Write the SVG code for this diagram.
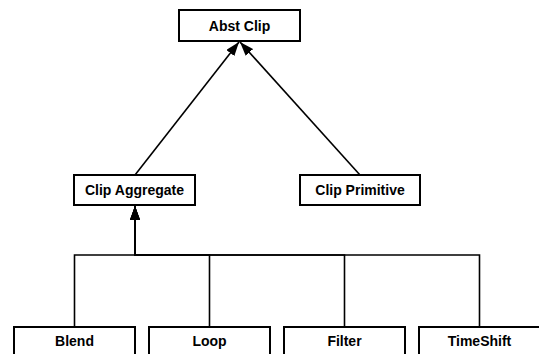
<svg xmlns="http://www.w3.org/2000/svg" width="539" height="354" viewBox="0 0 539 354">
<style>
.box{fill:#fff;stroke:#000;stroke-width:2}
.lbl{font-family:"Liberation Sans",Arial,sans-serif;font-weight:bold;font-size:14px;text-anchor:middle;fill:#000}
.conn{fill:none;stroke:#000;stroke-width:1.6}
</style>
<defs>
<marker id="arr" viewBox="0 0 14 10" refX="14" refY="5" markerWidth="14" markerHeight="10" markerUnits="userSpaceOnUse" orient="auto">
<path d="M0,0 L14,5 L0,10 Z" fill="#000"/>
</marker>
</defs>
<rect width="539" height="354" fill="#fff"/>
<g id="connectors">
<path class="conn" d="M135,175 L239,42" marker-end="url(#arr)"/>
<path class="conn" d="M360,175 L240,42" marker-end="url(#arr)"/>
<path class="conn" d="M74.5,327 V255 H135 V206" marker-end="url(#arr)"/>
<path class="conn" d="M209.5,327 V255 H135 V206" marker-end="url(#arr)"/>
<path class="conn" d="M344.5,327 V255 H135 V206" marker-end="url(#arr)"/>
<path class="conn" d="M479.5,327 V255 H135 V206" marker-end="url(#arr)"/>
</g>
<g id="abst-clip"><rect class="box" x="179" y="10" width="121" height="31"/><text class="lbl" x="239.5" y="31">Abst Clip</text></g>
<g id="clip-aggregate"><rect class="box" x="74" y="175" width="121" height="30"/><text class="lbl" x="134.5" y="195">Clip Aggregate</text></g>
<g id="clip-primitive"><rect class="box" x="300" y="175" width="120" height="30"/><text class="lbl" x="360" y="195">Clip Primitive</text></g>
<g id="blend"><rect class="box" x="14" y="327" width="121" height="31"/><text class="lbl" x="74.5" y="346">Blend</text></g>
<g id="loop"><rect class="box" x="149" y="327" width="121" height="31"/><text class="lbl" x="209.5" y="346">Loop</text></g>
<g id="filter"><rect class="box" x="284" y="327" width="121" height="31"/><text class="lbl" x="344.5" y="346">Filter</text></g>
<g id="timeshift"><rect class="box" x="419" y="327" width="121" height="31"/><text class="lbl" x="479.5" y="346">TimeShift</text></g>
</svg>
